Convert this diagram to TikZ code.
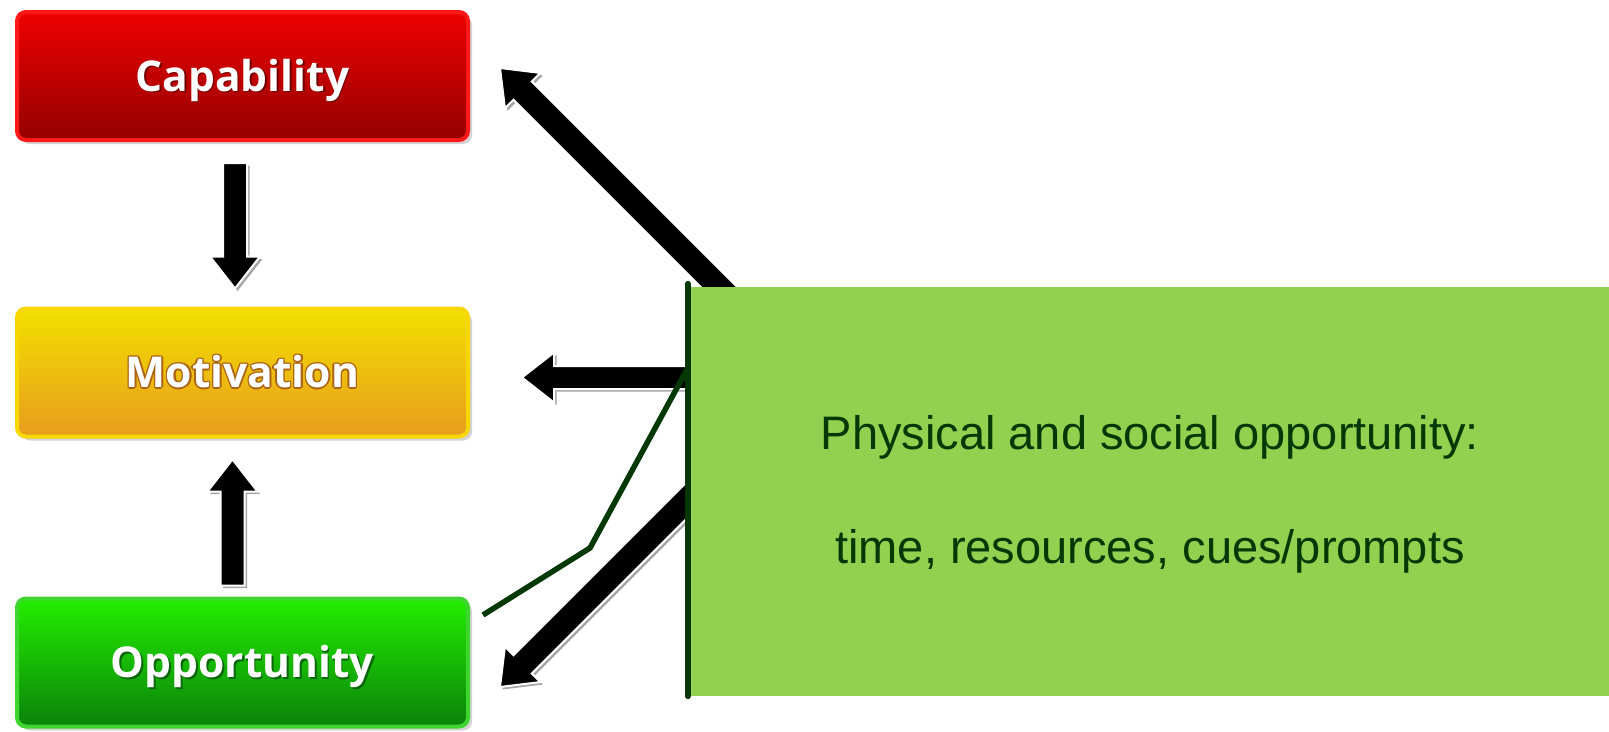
\documentclass[tikz,border=0pt]{standalone}
\usepackage{fontspec}
\setmainfont{Liberation Sans}
\newfontfamily\labelfont{Open Sans}
\usetikzlibrary{calc,shadows}

\definecolor{capTop}{RGB}{238,0,0}
\definecolor{capBot}{RGB}{148,0,0}
\definecolor{capEdge}{RGB}{255,24,24}
\definecolor{capShade}{RGB}{110,0,0}
\definecolor{motTop}{RGB}{242,224,0}
\definecolor{motBot}{RGB}{232,156,30}
\definecolor{motEdge}{RGB}{248,214,0}
\definecolor{motRing}{RGB}{170,100,20}
\definecolor{oppTop}{RGB}{36,238,0}
\definecolor{oppBot}{RGB}{10,130,10}
\definecolor{oppEdge}{RGB}{62,214,46}
\definecolor{oppShade}{RGB}{10,100,10}
\definecolor{noteFill}{RGB}{146,208,80}
\definecolor{noteInk}{RGB}{4,56,4}
\definecolor{arrowShade}{RGB}{165,165,165}

% white label with a soft offset shadow
\newcommand\lblshadow[2]{\makebox[0pt][l]{\hspace{1.5pt}\raisebox{-1.5pt}{\color{#1}#2}}#2}
% white label with a thin coloured ring
\newcommand\lblring[2]{%
  \makebox[0pt][l]{\hspace{-1.5pt}\color{#1}#2}%
  \makebox[0pt][l]{\hspace{1.5pt}\color{#1}#2}%
  \makebox[0pt][l]{\raisebox{1.5pt}{\color{#1}#2}}%
  \makebox[0pt][l]{\raisebox{-1.5pt}{\color{#1}#2}}%
  \makebox[0pt][l]{\hspace{-1.1pt}\raisebox{1.1pt}{\color{#1}#2}}%
  \makebox[0pt][l]{\hspace{1.1pt}\raisebox{1.1pt}{\color{#1}#2}}%
  \makebox[0pt][l]{\hspace{-1.1pt}\raisebox{-1.1pt}{\color{#1}#2}}%
  \makebox[0pt][l]{\hspace{1.1pt}\raisebox{-1.1pt}{\color{#1}#2}}%
  #2}

% outline of a block arrow from #3 to #4 with shaft half width #2, options #1
\newcommand\arrowshape[4]{%
  \path[#1] ($(#3)!#2!90:(#4)$) -- ($(ba-neck)!#2!90:(#4)$)
    -- ($(ba-neck)!25pt!90:(#4)$) -- (#4)
    -- ($(ba-neck)!25pt!-90:(#4)$) -- ($(ba-neck)!#2!-90:(#4)$)
    -- ($(#3)!#2!-90:(#4)$) -- cycle;}
% block arrow with a white rim and a grey offset shade
\newcommand\blockarrow[3][12pt]{%
  \coordinate (ba-neck) at ($(#3)!32pt!(#2)$);
  \arrowshape{fill=arrowShade, transform canvas={shift={(2.5,2.5)}}}{#1}{#2}{#3}
  \arrowshape{fill=black, draw=white, line width=2pt}{#1}{#2}{#3}}

\tikzset{
  box/.style={rectangle, rounded corners=9pt, minimum width=451pt,
    minimum height=128pt, inner sep=0pt, line width=4pt,
    text height=30.5pt, text depth=0pt, text=white,
    font=\labelfont\bfseries\fontsize{42.5}{50}\selectfont,
    drop shadow={shadow xshift=4pt, shadow yshift=-4pt, opacity=0.35}},
  note/.style={rectangle, fill=noteFill, minimum width=918pt,
    minimum height=409pt, inner sep=0pt, align=center, text=noteInk,
    font=\fontsize{47}{114}\selectfont},
  accent/.style={draw=noteInk, line width=6pt, line cap=round},
  leader/.style={draw=noteInk, line width=5.5pt},
}

\begin{document}
\begin{tikzpicture}[x=1pt, y=-1pt]
\useasboundingbox (0,0) rectangle (1609,731);

% the three COM-B boxes
\node[box, top color=capTop, bottom color=capBot, draw=capEdge]
  (cap) at (242.5,76) {\lblshadow{capShade}{Capability}};
\node[box, top color=motTop, bottom color=motBot, draw=motEdge]
  (mot) at (242.5,372.5) {\lblring{motRing}{Motivation}};
\node[box, top color=oppTop, bottom color=oppBot, draw=oppEdge]
  (opp) at (242.5,662.5) {\lblshadow{oppShade}{Opportunity}};

% arrows between the boxes
\blockarrow{$(cap.south)+(-7.5,21)$}{$(mot.north)+(-7.5,-18)$}
\blockarrow{$(opp.north)+(-10,-11)$}{$(mot.south)+(-10,21)$}

% arrows fanning out from behind the note
\coordinate (hub) at (809.5,377.5);
\coordinate (capin) at ($(cap.east)+(30,-8)$);
\coordinate (motin) at ($(mot.east)+(52,5)$);
\coordinate (oppin) at ($(opp.east)+(30,24.5)$);
\blockarrow[13pt]{hub}{capin}
\blockarrow[11.5pt]{hub}{motin}
\blockarrow[13pt]{hub}{oppin}

% callout note with accent bar and leader
\node[note] (note) at (1150,491.5)
  {\rule{0pt}{40pt}Physical and social opportunity:\\time, resources, cues/prompts};
\draw[accent] ($(note.north west)+(-3,-3)$) -- ($(note.south west)+(-3,0)$);
\coordinate (kink) at (590,548);
\draw[leader] ($(note.north west)+(-4,83)$) -- (kink) -- ($(opp.east)+(13,-47.5)$);
\end{tikzpicture}
\end{document}
